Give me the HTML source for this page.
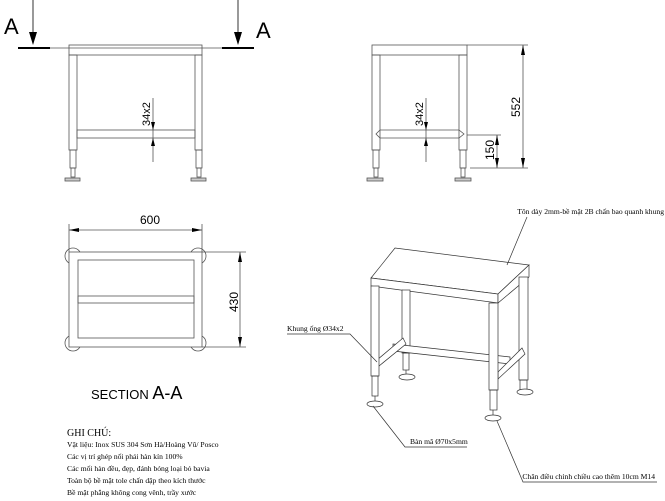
<!DOCTYPE html>
<html><head><meta charset="utf-8"><style>
body{margin:0;background:#fff;}
svg{display:block;}
text{font-family:"Liberation Sans",sans-serif;fill:#000;}
.s{font-family:"Liberation Serif","DejaVu Serif",serif;font-size:7.6px;}
</style></head><body>
<svg width="665" height="501" viewBox="0 0 665 501" xmlns="http://www.w3.org/2000/svg" fill="none" stroke="#555" stroke-width="0.8">
<!-- FRONT VIEW -->
<g>
<line x1="33" y1="0" x2="33" y2="32" stroke="#000"/>
<polygon points="29,32 37,32 33,45" fill="#000" stroke="none"/>
<line x1="18" y1="48" x2="50" y2="48" stroke="#000" stroke-width="2"/>
<line x1="238" y1="0" x2="238" y2="32" stroke="#000"/>
<polygon points="234,32 242,32 238,45" fill="#000" stroke="none"/>
<line x1="222" y1="48" x2="254" y2="48" stroke="#000" stroke-width="2"/>
<line x1="50" y1="48" x2="222" y2="48"/>
<text x="4" y="34" font-size="22" stroke="none">A</text>
<text x="256" y="38" font-size="22" stroke="none">A</text>
<rect x="69" y="45" width="133" height="10"/>
<rect x="69" y="55" width="8" height="95"/>
<rect x="195" y="55" width="7" height="95"/>
<rect x="77" y="130" width="118" height="8"/>
<rect x="70" y="150" width="6" height="18"/><rect x="196" y="150" width="6" height="18"/>
<rect x="71" y="168" width="4" height="9"/><rect x="197" y="168" width="4" height="9"/>
<rect x="65" y="178" width="15" height="3" fill="#ccc"/><rect x="191" y="178" width="15" height="3" fill="#ccc"/>
<line x1="153" y1="98" x2="153" y2="162"/>
<polygon points="151,122 155,122 153,130" fill="#000" stroke="none"/>
<polygon points="151,146 155,146 153,138" fill="#000" stroke="none"/>
<text transform="translate(150,126) rotate(-90)" font-size="11" stroke="none">34x2</text>
</g>
<!-- SIDE VIEW -->
<g>
<rect x="372" y="45" width="95" height="10"/>
<rect x="372" y="55" width="8" height="95"/>
<rect x="459" y="55" width="8" height="95"/>
<path d="M380,130 L459,130 L464,134 L459,138 L380,138 L376,134 Z"/>
<rect x="373" y="150" width="6" height="18"/><rect x="460" y="150" width="6" height="18"/>
<rect x="374" y="168" width="4" height="9"/><rect x="461" y="168" width="4" height="9"/>
<rect x="367" y="178" width="16" height="3" fill="#ccc"/><rect x="455" y="178" width="16" height="3" fill="#ccc"/>
<line x1="426" y1="98" x2="426" y2="162"/>
<polygon points="424,122 428,122 426,130" fill="#000" stroke="none"/>
<polygon points="424,146 428,146 426,138" fill="#000" stroke="none"/>
<text transform="translate(423,126) rotate(-90)" font-size="11" stroke="none">34x2</text>
<line x1="467" y1="45" x2="528" y2="45"/>
<line x1="467" y1="135" x2="501" y2="135"/>
<line x1="470" y1="168" x2="528" y2="168"/>
<line x1="523" y1="45" x2="523" y2="168"/>
<polygon points="521,55 525,55 523,45" fill="#000" stroke="none"/>
<polygon points="521,158 525,158 523,168" fill="#000" stroke="none"/>
<line x1="497" y1="135" x2="497" y2="168"/>
<polygon points="495,145 499,145 497,135" fill="#000" stroke="none"/>
<polygon points="495,158 499,158 497,168" fill="#000" stroke="none"/>
<text transform="translate(520,117) rotate(-90)" font-size="12" stroke="none">552</text>
<text transform="translate(494,160) rotate(-90)" font-size="12" stroke="none">150</text>
</g>
<!-- SECTION -->
<g>
<line x1="69" y1="224" x2="69" y2="252"/><line x1="202" y1="224" x2="202" y2="252"/>
<line x1="69" y1="230" x2="202" y2="230"/>
<polygon points="69,230 79,228 79,232" fill="#000" stroke="none"/>
<polygon points="202,230 192,228 192,232" fill="#000" stroke="none"/>
<text x="140" y="224" font-size="12" stroke="none">600</text>
<circle cx="73" cy="256" r="8"/><circle cx="198" cy="256" r="8"/>
<circle cx="73" cy="343" r="8"/><circle cx="198" cy="343" r="8"/>
<rect x="69" y="252" width="133" height="95" fill="#fff"/>
<rect x="78" y="260" width="116" height="78"/>
<rect x="78" y="296" width="116" height="7"/>
<line x1="202" y1="252" x2="246" y2="252"/><line x1="202" y1="347" x2="246" y2="347"/>
<line x1="240" y1="252" x2="240" y2="347"/>
<polygon points="240,252 238,262 242,262" fill="#000" stroke="none"/>
<polygon points="240,347 238,337 242,337" fill="#000" stroke="none"/>
<text transform="translate(238,312) rotate(-90)" font-size="12" stroke="none">430</text>
<text x="91" y="399" font-size="13" stroke="none">SECTION <tspan font-size="18">A-A</tspan></text>
<text x="67" y="436" class="s" stroke="none" style="font-size:10px">GHI CHÚ:</text>
<text x="67" y="447" class="s" stroke="none">Vật liệu: Inox SUS 304 Sơn Hà/Hoàng Vũ/ Posco</text>
<text x="67" y="459" class="s" stroke="none">Các vị trí ghép nối phải hàn kín 100%</text>
<text x="67" y="471" class="s" stroke="none">Các mối hàn đều, đẹp, đánh bóng loại bỏ bavia</text>
<text x="67" y="483" class="s" stroke="none">Toàn bộ bề mặt tole chấn dập theo kích thước</text>
<text x="67" y="495" class="s" stroke="none">Bề mặt phẳng không cong vênh, trầy xước</text>
</g>
<!-- ISO -->
<g stroke="#333" stroke-width="0.7">
<polygon points="371,278 395,248 529,265 498,294" fill="#fff"/>
<polygon points="371,278 498,294 498,303 371,286" fill="#fff"/>
<polygon points="498,294 529,265 529,277 498,303" fill="#fff"/>
<rect x="402" y="290" width="8" height="63" fill="#fff"/>
<rect x="519" y="277" width="9" height="103" fill="#fff"/>
<polygon points="393,344 510,357 510,364 393,351" fill="#fff"/>
<polygon points="377,360 403,338 406,344 379,366" fill="#fff"/>
<polygon points="498,372 522,348 525,354 498,379" fill="#fff"/>
<rect x="371" y="286" width="8" height="90" fill="#fff"/>
<rect x="489" y="303" width="9" height="87" fill="#fff"/>
<rect x="372" y="376" width="6" height="20"/><rect x="403" y="353" width="6" height="17"/>
<rect x="490" y="390" width="7" height="20"/><rect x="520" y="380" width="7" height="12"/>
<line x1="375" y1="396" x2="375" y2="402"/><line x1="406" y1="370" x2="406" y2="375"/>
<line x1="493" y1="410" x2="493" y2="416"/>
<ellipse cx="375" cy="404" rx="8" ry="3" fill="#fff"/>
<ellipse cx="407" cy="377" rx="8" ry="3" fill="#fff"/>
<ellipse cx="493" cy="418" rx="8" ry="3" fill="#fff"/>
<ellipse cx="525" cy="392" rx="8" ry="3" fill="#fff"/>
<polyline points="527,217 507,265"/>
<polyline points="287,334 350,334 377,362"/>
<polyline points="373,406 405,447 467,447"/>
<polyline points="497,421 523,482 657,482"/>
</g>
<text x="664" y="214" text-anchor="end" class="s" stroke="none">Tôn dày 2mm-bề mặt 2B chấn bao quanh khung</text>
<text x="287" y="331" class="s" stroke="none">Khung ống Ø34x2</text>
<text x="410" y="444" class="s" stroke="none">Bàn mã Ø70x5mm</text>
<text x="655" y="479" text-anchor="end" class="s" stroke="none">Chân điều chỉnh chiều cao thêm 10cm M14</text>
</svg>
</body></html>
